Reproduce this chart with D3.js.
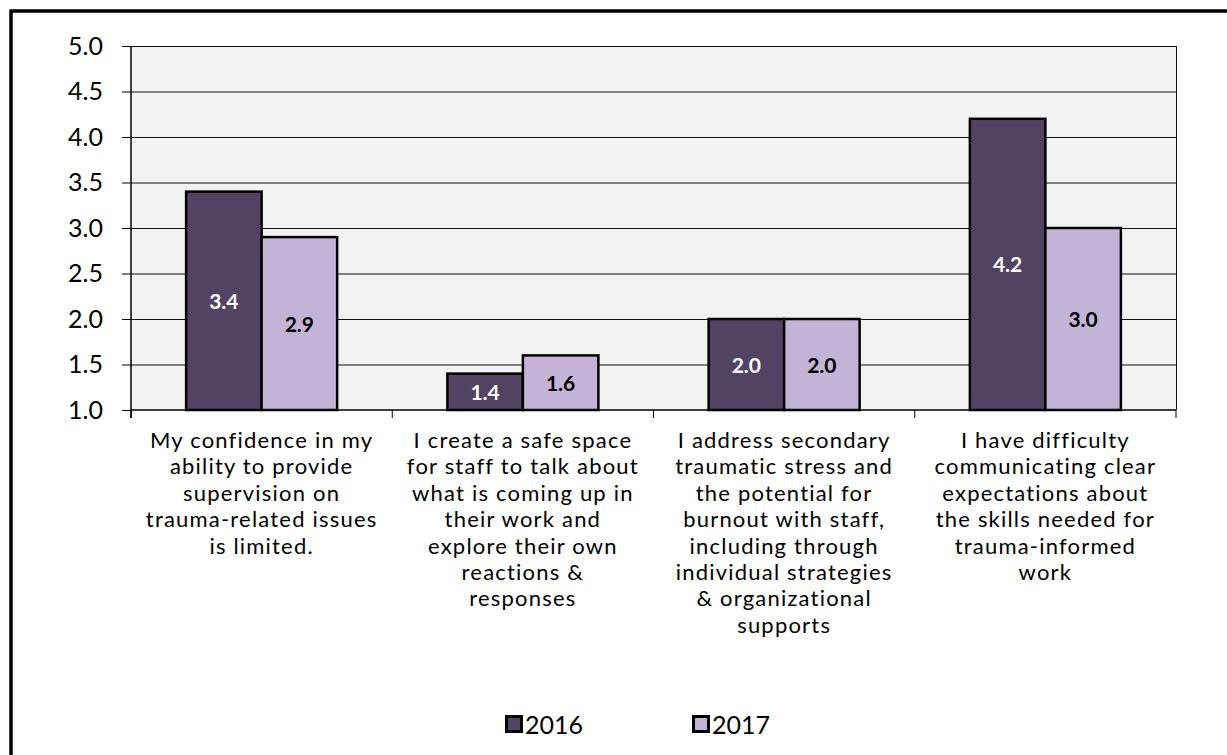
<!DOCTYPE html>
<html>
<head>
<meta charset="utf-8">
<script src="https://cdn.jsdelivr.net/npm/d3@7"></script>
<style>
  body { margin: 0; background: #fff; }
  text { font-family: Lato, "Open Sans", sans-serif; }
</style>
</head>
<body>
<div id="chart"></div>
<script>
// data
var categories = [
    ["My confidence in my", "ability to provide", "supervision on", "trauma-related issues", "is limited."],
    ["I create a safe space", "for staff to talk about", "what is coming up in", "their work and", "explore their own", "reactions &", "responses"],
    ["I address secondary", "traumatic stress and", "the potential for", "burnout with staff,", "including through", "individual strategies", "& organizational", "supports"],
    ["I have difficulty", "communicating clear", "expectations about", "the skills needed for", "trauma-informed", "work"]
];
var seriesNames = ["2016", "2017"];
var values2016 = [3.4, 1.4, 2.0, 4.2];
var values2017 = [2.9, 1.6, 2.0, 3.0];
var yTicks = [1.0, 1.5, 2.0, 2.5, 3.0, 3.5, 4.0, 4.5, 5.0];

var colors = { "2016": "#524264", "2017": "#c3b3d6" };

var W = 1227, H = 755;
var margin = { top: 46, right: 51, bottom: 345, left: 131 },
    width = W - margin.left - margin.right,
    height = H - margin.top - margin.bottom;

var svg = d3.select("#chart")
    .append("svg")
    .attr("width", W)
    .attr("height", H);

// outer frame
svg.append("rect")
    .attr("x", 11).attr("y", 11)
    .attr("width", W + 20).attr("height", H + 20)
    .attr("fill", "none")
    .attr("stroke", "#000")
    .attr("stroke-width", 3.5);

var g = svg.append("g")
    .attr("transform", "translate(" + margin.left + "," + margin.top + ")");

var x0 = d3.scaleBand()
    .domain(d3.range(categories.length))
    .range([0, width]);

var x1 = d3.scaleBand()
    .domain(seriesNames)
    .range([0, x0.bandwidth()])
    .paddingOuter(0.73);

var y = d3.scaleLinear()
    .domain([1, 5])
    .range([height, 0]);

// plot background
g.append("rect")
    .attr("width", width)
    .attr("height", height)
    .attr("fill", "#f2f2f2");

// gridlines
g.append("g")
    .selectAll("line")
    .data(yTicks.slice(1))
    .enter()
    .append("line")
    .attr("x1", 0).attr("x2", width)
    .attr("y1", function (d) { return y(d) + 0.5; })
    .attr("y2", function (d) { return y(d) + 0.5; })
    .attr("stroke", "#111")
    .attr("stroke-width", 1);

// plot right border
g.append("line")
    .attr("x1", width + 0.5).attr("x2", width + 0.5)
    .attr("y1", 0).attr("y2", height)
    .attr("stroke", "#111");

// Y axis
var yAxis = g.append("g")
    .call(d3.axisLeft(y).tickValues(yTicks).tickFormat(d3.format(".1f")).tickSize(9).tickPadding(19));
yAxis.select(".domain").attr("stroke", "#000").attr("stroke-width", 1.5).attr("d", "M0,0V" + (height + 8));
yAxis.selectAll(".tick line").attr("stroke", "#000");
yAxis.selectAll("text").style("font-size", "25px").attr("fill", "#000");

// X axis (ticks between categories)
var xb = g.append("g").attr("transform", "translate(0," + height + ")");
xb.append("line")
    .attr("x1", 0).attr("x2", width)
    .attr("stroke", "#000").attr("stroke-width", 1.5);
xb.selectAll(".ctick")
    .data(d3.range(categories.length + 1))
    .enter()
    .append("line")
    .attr("x1", function (i) { return i === categories.length ? width : x0(i); })
    .attr("x2", function (i) { return i === categories.length ? width : x0(i); })
    .attr("y1", 0).attr("y2", 8)
    .attr("stroke", "#000");

// bars
var rows = categories.map(function (c, i) {
    return [{ s: "2016", v: values2016[i] }, { s: "2017", v: values2017[i] }];
});

var groups = g.append("g")
    .selectAll("g")
    .data(rows)
    .enter()
    .append("g")
    .attr("transform", function (d, i) { return "translate(" + x0(i) + ",0)"; });

groups.selectAll("rect")
    .data(function (d) { return d; })
    .enter()
    .append("rect")
    .attr("x", function (d) { return x1(d.s); })
    .attr("y", function (d) { return y(d.v); })
    .attr("width", x1.bandwidth())
    .attr("height", function (d) { return height - y(d.v); })
    .attr("fill", function (d) { return colors[d.s]; })
    .attr("stroke", "#000")
    .attr("stroke-width", 2.5);

groups.selectAll("text")
    .data(function (d) { return d; })
    .enter()
    .append("text")
    .attr("x", function (d) { return x1(d.s) + x1.bandwidth() / 2; })
    .attr("y", function (d) { return (y(d.v) + height) / 2 + 8; })
    .attr("text-anchor", "middle")
    .style("font-size", "21px")
    .style("font-weight", "bold")
    .attr("fill", function (d) { return d.s === "2016" ? "#fff" : "#000"; })
    .text(function (d) { return d.v.toFixed(1); });

// category labels
var labels = g.append("g")
    .selectAll("text")
    .data(categories)
    .enter()
    .append("text")
    .attr("text-anchor", "middle")
    .attr("transform", function (d, i) { return "translate(" + (x0(i) + x0.bandwidth() / 2) + "," + (height + 38) + ")"; })
    .style("font-size", "22px")
    .style("letter-spacing", "1.2px")
    .attr("fill", "#000");

labels.selectAll("tspan")
    .data(function (d) { return d; })
    .enter()
    .append("tspan")
    .attr("x", 0)
    .attr("y", function (d, j) { return j * 26.4; })
    .text(function (d) { return d; });

// legend
var legendX = [505, 692];
var legend = svg.append("g")
    .selectAll("g")
    .data(seriesNames)
    .enter()
    .append("g")
    .attr("transform", function (d, i) { return "translate(" + legendX[i] + ",715)"; });

legend.append("rect")
    .attr("x", 1.5).attr("y", 1.5)
    .attr("width", 15).attr("height", 15)
    .attr("fill", function (d) { return colors[d]; })
    .attr("stroke", "#000")
    .attr("stroke-width", 3);

legend.append("text")
    .attr("x", 20)
    .attr("y", 19)
    .style("font-size", "25px")
    .attr("fill", "#000")
    .text(function (d) { return d; });
</script>
</body>
</html>
